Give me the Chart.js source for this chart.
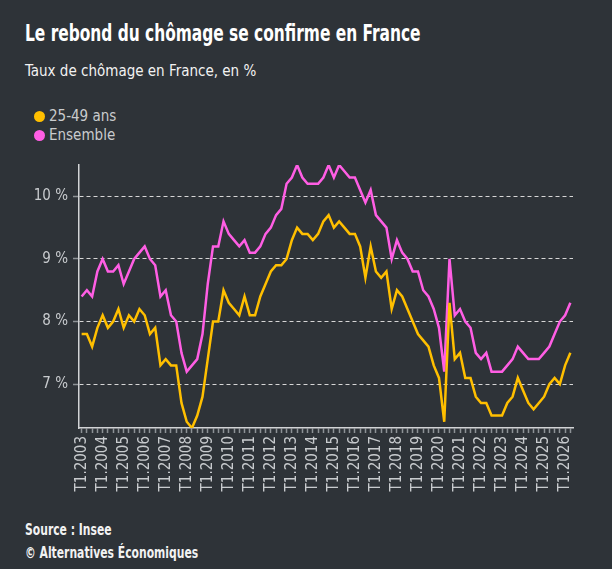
<!DOCTYPE html>
<html lang="fr">
<head>
<meta charset="utf-8">
<title>Le rebond du chômage se confirme en France</title>
<script src="https://cdn.jsdelivr.net/npm/chart.js@4.4.1/dist/chart.umd.min.js"></script>
<style>
    body {
        margin: 0;
        width: 612px;
        height: 569px;
        overflow: hidden;
        background: #2e3338;
        font-family: "Liberation Sans Narrow", "DejaVu Sans Condensed", Roboto, sans-serif;
        position: relative;
    }
    .txt { position: absolute; left: 25px; white-space: nowrap; line-height: 1; transform-origin: left top; }
    #title { top: 22px; font-size: 23px; font-weight: bold; color: #ffffff; transform: scaleX(0.745); }
    #subtitle { top: 64px; font-size: 15px; color: #f2f2f2; }
    #source { top: 523px; font-size: 15px; font-weight: bold; color: #f2f2f2; transform: scaleX(0.8); }
    #credit { top: 546px; font-size: 15px; font-weight: bold; color: #f2f2f2; transform: scaleX(0.8); }
    #legend { position: absolute; left: 34px; top: 109px; }
    .legend-item { height: 19px; font-size: 15px; line-height: 1; color: #c9cbcd; display: flex; align-items: flex-start; }
    .legend-dot { width: 11px; height: 11px; border-radius: 50%; margin: 2px 4px 0 0; }
    #chartBox { position: absolute; left: 0; top: 150px; width: 612px; height: 360px; }
</style>
</head>
<body>
<div id="title" class="txt">Le rebond du chômage se confirme en France</div>
<div id="subtitle" class="txt">Taux de chômage en France, en %</div>
<div id="legend"></div>
<div id="chartBox"><canvas id="chomageChart" width="612" height="360"></canvas></div>
<div id="source" class="txt">Source : Insee</div>
<div id="credit" class="txt">© Alternatives Économiques</div>
<script>
// Trimestres T1.2003 -> T2.2026
const years = [2003, 2004, 2005, 2006, 2007, 2008, 2009, 2010, 2011, 2012, 2013, 2014,
    2015, 2016, 2017, 2018, 2019, 2020, 2021, 2022, 2023, 2024, 2025, 2026];
const quarterNames = ['T1', 'T2', 'T3', 'T4'];
const lastQuarterCount = 2; // 2026 : T1, T2

const quarters = [];
years.forEach((y, yi) => {
    const n = yi === years.length - 1 ? lastQuarterCount : 4;
    for (let q = 0; q < n; q++) quarters.push(quarterNames[q] + '.' + y);
});

// Taux de chômage, en %
const age2549 = [
    7.8, 7.8, 7.6, 7.9, 8.1, 7.9, 8.0, 8.2, 7.9, 8.1, 8.0, 8.2,
    8.1, 7.8, 7.9, 7.3, 7.4, 7.3, 7.3, 6.7, 6.4, 6.3, 6.5, 6.8,
    7.4, 8.0, 8.0, 8.5, 8.3, 8.2, 8.1, 8.4, 8.1, 8.1, 8.4, 8.6,
    8.8, 8.9, 8.9, 9.0, 9.3, 9.5, 9.4, 9.4, 9.3, 9.4, 9.6, 9.7,
    9.5, 9.6, 9.5, 9.4, 9.4, 9.2, 8.7, 9.2, 8.8, 8.7, 8.8, 8.2,
    8.5, 8.4, 8.2, 8.0, 7.8, 7.7, 7.6, 7.3, 7.1, 6.4, 8.3, 7.4,
    7.5, 7.1, 7.1, 6.8, 6.7, 6.7, 6.5, 6.5, 6.5, 6.7, 6.8, 7.1,
    6.9, 6.7, 6.6, 6.7, 6.8, 7.0, 7.1, 7.0, 7.3, 7.5
];
const ensemble = [
    8.4, 8.5, 8.4, 8.8, 9.0, 8.8, 8.8, 8.9, 8.6, 8.8, 9.0, 9.1,
    9.2, 9.0, 8.9, 8.4, 8.5, 8.1, 8.0, 7.5, 7.2, 7.3, 7.4, 7.8,
    8.6, 9.2, 9.2, 9.6, 9.4, 9.3, 9.2, 9.3, 9.1, 9.1, 9.2, 9.4,
    9.5, 9.7, 9.8, 10.2, 10.3, 10.5, 10.3, 10.2, 10.2, 10.2, 10.3, 10.5,
    10.3, 10.5, 10.4, 10.3, 10.3, 10.1, 9.9, 10.1, 9.7, 9.6, 9.5, 9.0,
    9.3, 9.1, 9.0, 8.8, 8.8, 8.5, 8.4, 8.2, 7.9, 7.2, 9.0, 8.1,
    8.2, 8.0, 7.9, 7.5, 7.4, 7.5, 7.2, 7.2, 7.2, 7.3, 7.4, 7.6,
    7.5, 7.4, 7.4, 7.4, 7.5, 7.6, 7.8, 8.0, 8.1, 8.3
];

const seriesNames = ['25-49 ans', 'Ensemble'];
const seriesColors = ['#ffbf00', '#ff5ee4'];
const yTicks = [7, 8, 9, 10];
const yMin = 6.3;
const yMax = 10.5;

const FONT = '"Liberation Sans Narrow", "DejaVu Sans Condensed", Roboto, sans-serif';

// legende
const legend = document.getElementById('legend');
seriesNames.forEach((name, i) => {
    const item = document.createElement('div');
    item.className = 'legend-item';
    item.innerHTML = '<span class="legend-dot" style="background:' + seriesColors[i] + '"></span>' + name;
    legend.appendChild(item);
});

const ctx = document.getElementById('chomageChart').getContext('2d');
new Chart(ctx, {
    type: 'line',
    data: {
        labels: quarters,
        datasets: [
            {
                label: seriesNames[0],
                data: age2549,
                borderColor: seriesColors[0],
                borderWidth: 2.5,
                pointRadius: 0,
                tension: 0
            },
            {
                label: seriesNames[1],
                data: ensemble,
                borderColor: seriesColors[1],
                borderWidth: 2.5,
                pointRadius: 0,
                tension: 0
            }
        ]
    },
    options: {
        responsive: false,
        animation: false,
        layout: {
            padding: { top: 15, right: 39, left: 0, bottom: 0 }
        },
        plugins: {
            legend: { display: false },
            tooltip: { enabled: false }
        },
        scales: {
            x: {
                offset: true,
                grid: {
                    drawOnChartArea: false,
                    drawTicks: true,
                    tickLength: 5,
                    tickWidth: 1.5,
                    tickColor: '#8d9296'
                },
                border: { color: '#d2d4d6', width: 1.5 },
                ticks: {
                    autoSkip: false,
                    minRotation: 90,
                    maxRotation: 90,
                    padding: 3,
                    color: '#c8cbce',
                    font: { family: FONT, size: 15 },
                    callback: (value, index) => quarters[index].startsWith('T1') ? quarters[index] : ''
                },
                afterFit: scale => { scale.height = 82; }
            },
            y: {
                min: yMin,
                max: yMax,
                afterBuildTicks: scale => {
                    scale.ticks = yTicks.map(v => ({ value: v }));
                },
                grid: {
                    color: '#d6d6d6',
                    lineWidth: 1,
                    tickLength: 6,
                    tickWidth: 1.5,
                    tickColor: '#8d9296',
                    tickBorderDash: []
                },
                border: { color: '#d2d4d6', width: 1.5, dash: [4, 3] },
                ticks: {
                    padding: 5,
                    color: '#c8cbce',
                    font: { family: FONT, size: 15 },
                    callback: value => value + ' %'
                },
                afterFit: scale => { scale.width = 79; }
            }
        }
    }
});
</script>
</body>
</html>
